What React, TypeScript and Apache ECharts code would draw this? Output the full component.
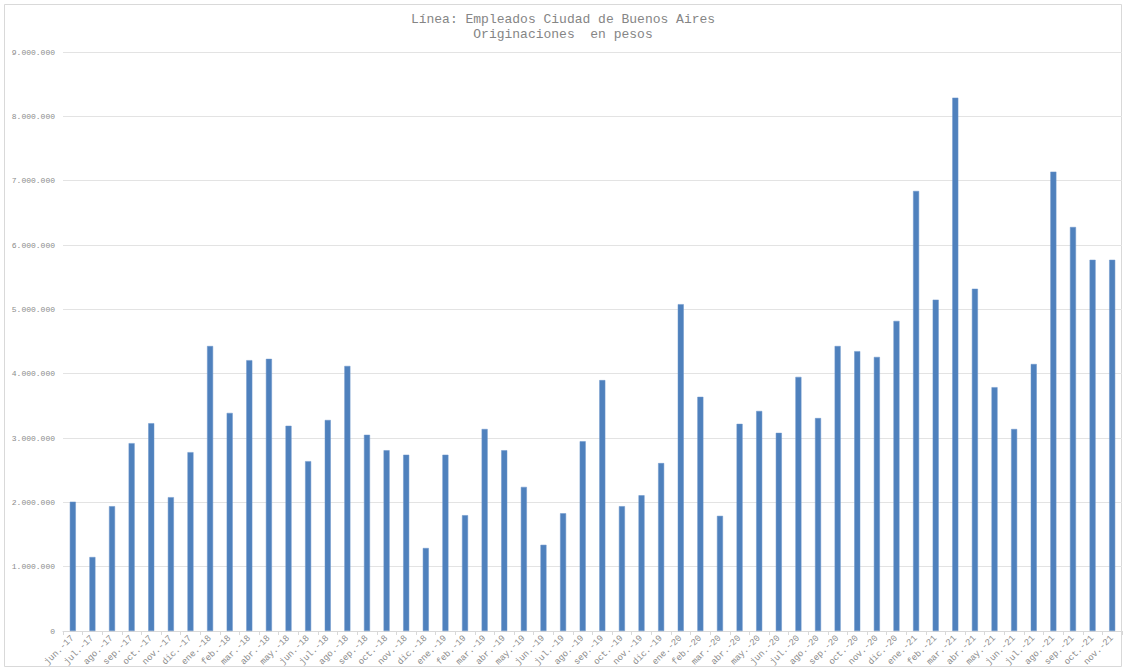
import React, { useEffect, useRef } from "react";
import * as echarts from "echarts";

const categories = [
  "jun.-17", "jul.-17", "ago.-17", "sep.-17", "oct.-17", "nov.-17", "dic.-17",
  "ene.-18", "feb.-18", "mar.-18", "abr.-18", "may.-18", "jun.-18", "jul.-18", "ago.-18", "sep.-18", "oct.-18", "nov.-18", "dic.-18",
  "ene.-19", "feb.-19", "mar.-19", "abr.-19", "may.-19", "jun.-19", "jul.-19", "ago.-19", "sep.-19", "oct.-19", "nov.-19", "dic.-19",
  "ene.-20", "feb.-20", "mar.-20", "abr.-20", "may.-20", "jun.-20", "jul.-20", "ago.-20", "sep.-20", "oct.-20", "nov.-20", "dic.-20",
  "ene.-21", "feb.-21", "mar.-21", "abr.-21", "may.-21", "jun.-21", "jul.-21", "ago.-21", "sep.-21", "oct.-21", "nov.-21",
];

const originaciones = [
  2010000, 1150000, 1940000, 2920000, 3230000, 2080000, 2780000,
  4430000, 3390000, 4210000, 4230000, 3190000, 2640000, 3280000, 4120000, 3050000, 2810000, 2740000, 1290000,
  2740000, 1800000, 3140000, 2810000, 2240000, 1340000, 1830000, 2950000, 3900000, 1940000, 2110000, 2610000,
  5080000, 3640000, 1790000, 3220000, 3420000, 3080000, 3950000, 3310000, 4430000, 4350000, 4260000, 4820000,
  6840000, 5150000, 8290000, 5320000, 3790000, 3140000, 4150000, 7140000, 6280000, 5770000, 5770000,
];

const titleLines = ["Línea: Empleados Ciudad de Buenos Aires", "Originaciones  en pesos"];

const FONT = "'Liberation Mono', 'DejaVu Sans Mono', monospace";

function fmt(v: number): string {
  return String(Math.round(v)).replace(/\B(?=(\d{3})+(?!\d))/g, ".");
}

export default function App() {
  const ref = useRef<HTMLDivElement>(null);
  useEffect(() => {
    if (!ref.current) return;
    const chart = echarts.init(ref.current, null, { renderer: "svg" });
    chart.setOption({
      animation: false,
      backgroundColor: "#ffffff",
      title: {
        text: titleLines.join("\n"),
        left: "center",
        top: 7,
        textStyle: {
          fontFamily: FONT,
          fontSize: 13,
          fontWeight: "normal",
          color: "#858585",
          lineHeight: 15,
        },
      },
      graphic: [
        {
          type: "rect",
          shape: { x: 4.5, y: 4.5, width: 1117, height: 662 },
          style: { fill: "none", stroke: "#d9d9d9", lineWidth: 1 },
          silent: true,
        },
      ],
      grid: { left: 63, right: 4, top: 52, bottom: 39, containLabel: false },
      xAxis: {
        type: "category",
        data: categories,
        boundaryGap: true,
        axisLine: { show: true, lineStyle: { color: "#d9d9d9", width: 1 } },
        axisTick: { show: true, alignWithLabel: false, length: 4, lineStyle: { color: "#d9d9d9" } },
        axisLabel: {
          interval: 0,
          rotate: 45,
          fontFamily: FONT,
          fontSize: 9,
          color: "#8c8c8c",
          margin: 6,
        },
      },
      yAxis: {
        type: "value",
        min: 0,
        max: 9000000,
        interval: 1000000,
        axisLine: { show: false },
        axisTick: { show: false },
        splitLine: { lineStyle: { color: "#e3e3e3", width: 1 } },
        axisLabel: {
          fontFamily: FONT,
          fontSize: 8,
          color: "#8c8c8c",
          margin: 8,
          formatter: (v: number) => fmt(v),
        },
      },
      series: [
        {
          type: "bar",
          data: originaciones,
          barWidth: 6,
          itemStyle: { color: "#4f81bd", borderColor: "#6a95cb", borderWidth: 0.5 },
        },
      ],
    });
    return () => chart.dispose();
  }, []);
  return (
    <div
      ref={ref}
      style={{ position: "fixed", left: 0, top: 0, width: 1126, height: 670 }}
    />
  );
}
